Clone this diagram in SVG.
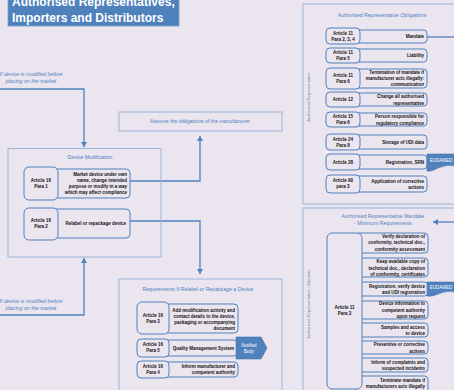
<svg xmlns="http://www.w3.org/2000/svg" width="454" height="390" viewBox="0 0 454 390">
<defs>
<marker id="ah" markerUnits="userSpaceOnUse" markerWidth="6" markerHeight="6" refX="5" refY="3" orient="auto">
<path d="M0,0 L5,3 L0,6 Z" fill="#4f81bd"/>
</marker>
<style>
text{font-family:"Liberation Sans","Open Sans",Arial,sans-serif}
.outer{fill:none;stroke:#9ab5da;stroke-width:1}
.rb{fill:#ebe5f0;stroke:#4f81bd;stroke-width:1}
.lb{fill:#ebe5f0;stroke:#4f81bd;stroke-width:1}
.t{font-size:4.5px;font-weight:bold;fill:#111}
.c{text-anchor:middle}
.e{text-anchor:end}
.ttl{font-size:5.2px;fill:#4f81bd;text-anchor:middle}
.it{font-size:5.3px;font-style:italic;fill:#4f81bd;text-anchor:middle}
.vl{font-size:4.2px;fill:#6e8fc4;text-anchor:middle}
.con{fill:none;stroke:#4f81bd;stroke-width:1.3}
.blue{fill:#4f81bd;stroke:#4a76ad;stroke-width:0.6}
.wt{font-size:4.5px;fill:#fff;text-anchor:middle}
</style>
</defs>
<rect width="454" height="390" fill="#ebe5f0"/>

<g id="title">
<rect x="8" y="-10" width="171" height="36" fill="#4f81bd" stroke="#7a9fd0" stroke-width="0.8"/>
<text x="12" y="6" font-size="12" font-weight="bold" fill="#fff">Authorised Representatives,</text>
<text x="12" y="22" font-size="12" font-weight="bold" fill="#fff">Importers and Distributors</text>
</g>

<g id="labels">
<text class="it" x="31" y="76"><tspan>If device is modified before</tspan><tspan x="31" y="83">placing on the market</tspan></text>
<text class="it" x="31" y="303"><tspan>If device is modified before</tspan><tspan x="31" y="310">placing on the market</tspan></text>
</g>

<g id="connectors">
<path class="con" d="M0,89 H84 V147" marker-end="url(#ah)"/>
<path class="con" d="M0,315 H84 V258" marker-end="url(#ah)"/>
<path class="con" d="M130,181 H200 V136" marker-end="url(#ah)"/>
<path class="con" d="M130,221 H200 V274" marker-end="url(#ah)"/>
<path class="con" d="M427,37 H454"/>
<path class="con" d="M454,222 H433" marker-end="url(#ah)"/>
</g>

<g id="assume">
<rect class="outer" x="119" y="112" width="163" height="19"/>
<text class="ttl" x="200" y="123">Assume the obligations of the manufacturer</text>
</g>

<g id="device-modification">
<rect class="outer" x="8" y="148.5" width="153" height="108.5"/>
<text class="ttl" x="90" y="158.5">Device Modification</text>
<g id="dm-para1">
<rect class="rb" x="52" y="169" width="78" height="29" rx="4"/>
<rect class="lb" x="24" y="167" width="34" height="33" rx="5"/>
<text class="t c" x="41" y="181.6"><tspan>Article 16</tspan><tspan x="41" y="188">Para 1</tspan></text>
<text class="t e" x="127" y="175.5"><tspan>Market device under own</tspan><tspan x="127" y="181.8">name, change intended</tspan><tspan x="127" y="188.1">purpose or modify in a way</tspan><tspan x="127" y="194.4">which may affect compliance</tspan></text>
</g>
<g id="dm-para2">
<rect class="rb" x="52" y="209" width="78" height="29" rx="4"/>
<rect class="lb" x="24" y="208" width="34" height="32" rx="5"/>
<text class="t c" x="41" y="222"><tspan>Article 16</tspan><tspan x="41" y="228">Para 2</tspan></text>
<text class="t e" x="126" y="224.6">Relabel or repackage device</text>
</g>
</g>

<g id="requirements">
<rect class="outer" x="119" y="279" width="163" height="120"/>
<text class="ttl" x="198" y="290.5">Requirements If Relabel or Repackage a Device</text>
<g id="rq-para3">
<rect class="rb" x="163" y="304" width="75" height="29" rx="4"/>
<rect class="lb" x="137" y="302" width="32" height="32" rx="5"/>
<text class="t c" x="153" y="316.8"><tspan>Article 16</tspan><tspan x="153" y="323">Para 3</tspan></text>
<text class="t e" x="235" y="311.5"><tspan>Add modification activity and</tspan><tspan x="235" y="317.8">contact details to the device,</tspan><tspan x="235" y="324.1">packaging or accompanying</tspan><tspan x="235" y="330.4">document</tspan></text>
</g>
<g id="rq-para5">
<rect class="rb" x="163" y="340" width="75" height="16" rx="4"/>
<rect class="lb" x="137" y="339" width="32" height="18" rx="4"/>
<text class="t c" x="153" y="345.6"><tspan>Article 16</tspan><tspan x="153" y="351.6">Para 5</tspan></text>
<text class="t e" x="234" y="349.6">Quality Management System</text>
</g>
<g id="notified-body">
<path class="blue" d="M236,337 H261 L267,348 L261,359 H236 Z"/>
<text class="wt" x="249" y="346.6"><tspan>Notified</tspan><tspan x="249" y="352.6">Body</tspan></text>
</g>
<g id="rq-para4">
<rect class="rb" x="163" y="362" width="75" height="15" rx="4"/>
<rect class="lb" x="137" y="361" width="32" height="17" rx="4"/>
<text class="t c" x="153" y="367.6"><tspan>Article 16</tspan><tspan x="153" y="373.6">Para 4</tspan></text>
<text class="t e" x="235" y="367.8"><tspan>Inform manufacturer and</tspan><tspan x="235" y="374">competent authority</tspan></text>
</g>
</g>

<g id="obligations">
<rect class="outer" x="303" y="4" width="170" height="200"/>
<text class="ttl" x="382" y="16.5">Authorised Representative Obligations</text>
<text class="vl" transform="translate(310,97) rotate(-90)">Authorised Representative</text>
<g id="ob1">
<rect class="rb" x="354" y="30" width="73" height="13" rx="3.5"/>
<rect class="lb" x="326" y="28" width="34" height="16" rx="4"/>
<text class="t c" x="343" y="34.8"><tspan>Article 11</tspan><tspan x="343" y="40.8">Para 2, 3, 4</tspan></text>
<text class="t e" x="424" y="38">Mandate</text>
</g>
<g id="ob2">
<rect class="rb" x="354" y="49" width="73" height="13" rx="3.5"/>
<rect class="lb" x="326" y="48" width="34" height="15" rx="4"/>
<text class="t c" x="343" y="53.5"><tspan>Article 11</tspan><tspan x="343" y="59.5">Para 5</tspan></text>
<text class="t e" x="424" y="57">Liability</text>
</g>
<g id="ob3">
<rect class="rb" x="354" y="69" width="73" height="19" rx="3.5"/>
<rect class="lb" x="326" y="68" width="34" height="21" rx="4"/>
<text class="t c" x="343" y="76.5"><tspan>Article 11</tspan><tspan x="343" y="82.5">Para 6</tspan></text>
<text class="t e" x="424" y="73.8"><tspan>Termination of mandate if</tspan><tspan x="424" y="80.1">manufacturer acts illegally:</tspan><tspan x="424" y="86.4">communication</tspan></text>
</g>
<g id="ob4">
<rect class="rb" x="354" y="93" width="73" height="13" rx="3.5"/>
<rect class="lb" x="326" y="92" width="34" height="15" rx="4"/>
<text class="t c" x="343" y="101">Article 12</text>
<text class="t e" x="424" y="98.3"><tspan>Change all authorised</tspan><tspan x="424" y="104.6">representative</tspan></text>
</g>
<g id="ob5">
<rect class="rb" x="354" y="113" width="73" height="13" rx="3.5"/>
<rect class="lb" x="326" y="112" width="34" height="15" rx="4"/>
<text class="t c" x="343" y="118"><tspan>Article 15</tspan><tspan x="343" y="124">Para 6</tspan></text>
<text class="t e" x="424" y="118.3"><tspan>Person responsible for</tspan><tspan x="424" y="124.6">regulatory compliance</tspan></text>
</g>
<g id="ob6">
<rect class="rb" x="354" y="135" width="73" height="14" rx="3.5"/>
<rect class="lb" x="326" y="134" width="34" height="16" rx="4"/>
<text class="t c" x="343" y="140.5"><tspan>Article 24</tspan><tspan x="343" y="146.5">Para 8</tspan></text>
<text class="t e" x="424" y="143.6">Storage of UDI data</text>
</g>
<g id="ob7">
<rect class="rb" x="354" y="155" width="73" height="14" rx="3.5"/>
<rect class="lb" x="326" y="154" width="34" height="16" rx="4"/>
<text class="t c" x="343" y="163.6">Article 28</text>
<text class="t e" x="424" y="163.6">Registration, SRN</text>
</g>
<g id="eudamed1">
<path class="blue" d="M427,154 H456 V166 Q446,164 438,168 Q432,172 427,171 Z"/>
<text class="wt" x="441" y="162">EUDAMED</text>
</g>
<g id="ob8">
<rect class="rb" x="354" y="176" width="73" height="16" rx="3.5"/>
<rect class="lb" x="326" y="175" width="34" height="18" rx="4"/>
<text class="t c" x="343" y="181.5"><tspan>Article 90</tspan><tspan x="343" y="187.5">para 3</tspan></text>
<text class="t e" x="424" y="182.8"><tspan>Application of corrective</tspan><tspan x="424" y="189.1">actions</tspan></text>
</g>
</g>

<g id="mandate">
<rect class="outer" x="303" y="208" width="170" height="200"/>
<text class="ttl" x="383" y="217.5"><tspan>Authorised Representative Mandate</tspan><tspan x="383" y="224.5">- Minimum Requirements</tspan></text>
<text class="vl" transform="translate(310,304) rotate(-90)">Authorised Representative - Mandate</text>
<g id="md-rows">
<rect class="rb" x="356" y="233" width="72" height="20" rx="3.5"/>
<text class="t e" x="425" y="238"><tspan>Verify declaration of</tspan><tspan x="425" y="244.3">conformity, technical doc.,</tspan><tspan x="425" y="250.6">conformity assessment</tspan></text>
<rect class="rb" x="356" y="258" width="72" height="19" rx="3.5"/>
<text class="t e" x="425" y="263.3"><tspan>Keep available copy of</tspan><tspan x="425" y="269.6">technical doc., declaration</tspan><tspan x="425" y="275.9">of conformity, certificates</tspan></text>
<rect class="rb" x="356" y="282" width="72" height="14" rx="3.5"/>
<text class="t e" x="425" y="287.9"><tspan>Registration, verify device</tspan><tspan x="425" y="294.2">and UDI registration</tspan></text>
<rect class="rb" x="356" y="301" width="72" height="18" rx="3.5"/>
<text class="t e" x="425" y="305.3"><tspan>Device information to</tspan><tspan x="425" y="311.6">competent authority</tspan><tspan x="425" y="317.9">upon request</tspan></text>
<rect class="rb" x="356" y="323" width="72" height="14" rx="3.5"/>
<text class="t e" x="425" y="328.9"><tspan>Samples and access</tspan><tspan x="425" y="335.2">to device</tspan></text>
<rect class="rb" x="356" y="341" width="72" height="13" rx="3.5"/>
<text class="t e" x="425" y="346.4"><tspan>Preventive or corrective</tspan><tspan x="425" y="352.7">actions</tspan></text>
<rect class="rb" x="356" y="358" width="72" height="14" rx="3.5"/>
<text class="t e" x="425" y="363.9"><tspan>Inform of complaints and</tspan><tspan x="425" y="370.2">suspected incidents</tspan></text>
<rect class="rb" x="356" y="376" width="72" height="18" rx="3.5"/>
<text class="t e" x="425" y="381.6"><tspan>Terminate mandate if</tspan><tspan x="425" y="388">manufacturers acts illegally</tspan></text>
</g>
<g id="md-article">
<rect class="lb" x="327" y="233" width="35" height="156" rx="5"/>
<text class="t c" x="344.5" y="308.5"><tspan>Article 11</tspan><tspan x="344.5" y="314.5">Para 3</tspan></text>
</g>
<g id="eudamed2">
<path class="blue" d="M427,282 H456 V292 Q446,290 438,294 Q432,297 427,296 Z"/>
<text class="wt" x="441" y="289">EUDAMED</text>
</g>
</g>
</svg>
